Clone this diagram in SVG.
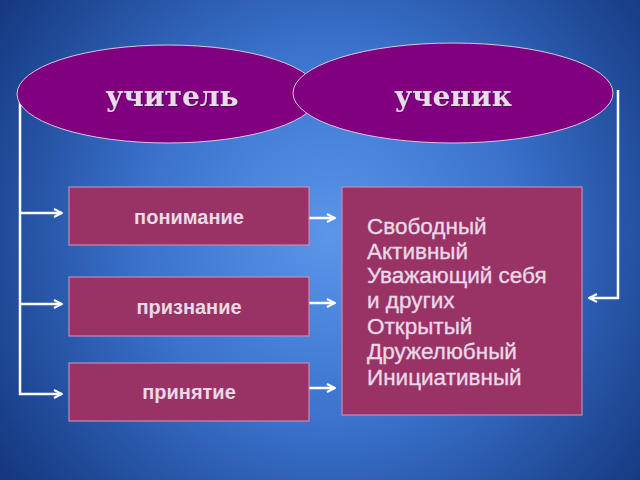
<svg xmlns="http://www.w3.org/2000/svg" width="640" height="480" viewBox="0 0 640 480">
<defs>
<radialGradient id="bg" cx="330" cy="235" r="420" gradientUnits="userSpaceOnUse">
<stop offset="0" stop-color="#5b96ea"/>
<stop offset="0.45" stop-color="#3a72cc"/>
<stop offset="0.85" stop-color="#1c4490"/>
<stop offset="1" stop-color="#15337a"/>
</radialGradient>
<marker id="arr" viewBox="0 0 10 10" refX="9" refY="5" markerWidth="4" markerHeight="4" orient="auto" markerUnits="strokeWidth">
<path d="M1,1 L9,5 L1,9" fill="none" stroke="#ffffff" stroke-width="2"/>
</marker>
<filter id="sh" x="-10%" y="-10%" width="120%" height="130%">
<feDropShadow dx="1" dy="1" stdDeviation="0.6" flood-color="#000" flood-opacity="0.25"/>
</filter>
</defs>
<style>
.ell{fill:#800080;stroke:#d9c6e0;stroke-width:1}
.box{fill:#993366;stroke:#c48ab4;stroke-width:1.2}
.big{font-family:"DejaVu Serif","Liberation Serif",serif;font-weight:bold;font-size:28px;fill:#e8dce8;text-anchor:middle}
.lbl{font-family:"Liberation Sans",Arial,sans-serif;font-weight:bold;font-size:20px;fill:#ead8e6;text-anchor:middle}
.lst{font-family:"Liberation Sans",Arial,sans-serif;font-size:22.5px;fill:#ead8e6;stroke:#ead8e6;stroke-width:0.35}
.con{fill:none;stroke:#ffffff;stroke-width:2.5}
</style>
<rect x="0" y="0" width="640" height="480" fill="url(#bg)"/>
<g id="connectors">
<path class="con" d="M20,100 V394 H62" marker-end="url(#arr)"/>
<path class="con" d="M20,213 H62" marker-end="url(#arr)"/>
<path class="con" d="M20,304 H62" marker-end="url(#arr)"/>
<path class="con" d="M308,218 H335" marker-end="url(#arr)"/>
<path class="con" d="M308,303 H335" marker-end="url(#arr)"/>
<path class="con" d="M308,388 H335" marker-end="url(#arr)"/>
<path class="con" d="M618,90 V298 H589" marker-end="url(#arr)"/>
</g>
<g id="teacher">
<ellipse class="ell" cx="168" cy="94" rx="151" ry="49"/>
<text class="big" x="172" y="106" filter="url(#sh)">учитель</text>
</g>
<g id="student">
<ellipse class="ell" cx="453" cy="93" rx="160" ry="50"/>
<text class="big" x="453" y="106" filter="url(#sh)">ученик</text>
</g>
<g id="understanding">
<rect class="box" x="69" y="187" width="240" height="58"/>
<text class="lbl" x="189" y="224">понимание</text>
</g>
<g id="recognition">
<rect class="box" x="69" y="277" width="240" height="59"/>
<text class="lbl" x="189" y="314">признание</text>
</g>
<g id="acceptance">
<rect class="box" x="69" y="363" width="240" height="58"/>
<text class="lbl" x="189" y="399">принятие</text>
</g>
<g id="qualities">
<rect class="box" x="342" y="187" width="240" height="228"/>
<text class="lst" x="367" y="234">Свободный</text>
<text class="lst" x="367" y="259">Активный</text>
<text class="lst" x="367" y="283">Уважающий себя</text>
<text class="lst" x="367" y="308">и других</text>
<text class="lst" x="367" y="334">Открытый</text>
<text class="lst" x="367" y="359">Дружелюбный</text>
<text class="lst" x="367" y="385">Инициативный</text>
</g>
</svg>
